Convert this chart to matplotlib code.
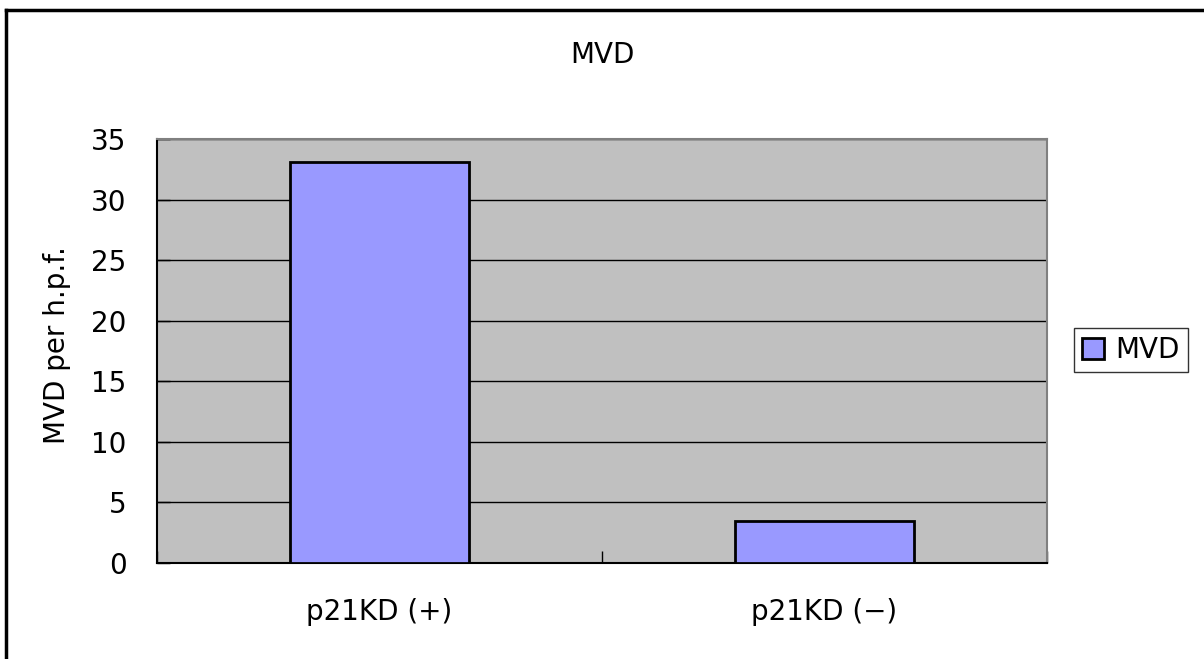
import matplotlib
matplotlib.use("Agg")
import matplotlib.pyplot as plt
from matplotlib.lines import Line2D
from matplotlib.patches import Patch

categories = ["p21KD (+)", "p21KD (\u2212)"]
values = [33.1, 3.5]
series_name = "MVD"
yticks = [0, 5, 10, 15, 20, 25, 30, 35]

plt.rcParams['font.family'] = ['DejaVu Sans']
FS = 20

W, H = 1204, 659
fig = plt.figure(figsize=(W / 100, H / 100), dpi=100)
fig.patch.set_facecolor("white")

ax = fig.add_axes([157 / W, 1 - 563 / H, (1047 - 157) / W, (563 - 139) / H])
ax.set_facecolor("#C0C0C0")

x = list(range(len(categories)))
ax.bar(x, values, width=0.403, color="#9999FF", edgecolor="black", linewidth=2, zorder=3)

ax.set_xlim(-0.5, len(categories) - 0.5)
ax.set_ylim(0, 35)
ax.set_yticks(yticks)
ax.yaxis.grid(True, color="black", linewidth=1, zorder=1)
ax.set_axisbelow(True)

ax.set_xticks([i - 0.5 for i in range(len(categories) + 1)])
ax.set_xticklabels([])
ax.set_xticks(x, minor=True)
ax.set_xticklabels(categories, minor=True, fontsize=FS)
ax.tick_params(axis="x", which="minor", length=0, pad=25)
ax.tick_params(axis="x", which="major", direction="in", length=9, width=1, colors="black")
ax.tick_params(axis="y", direction="in", length=9, width=1, labelsize=FS, pad=22)

for s in ["top", "right"]:
    ax.spines[s].set_color("#808080")
    ax.spines[s].set_linewidth(1.5)
for s in ["left", "bottom"]:
    ax.spines[s].set_color("black")
    ax.spines[s].set_linewidth(1.5)

fig.text(57 / W, 1 - 345 / H, "MVD per h.p.f.", fontsize=FS, rotation=90, ha="center", va="center")
fig.text(602 / W, 1 - 55 / H, "MVD", fontsize=FS, ha="center", va="center")

leg = fig.legend(handles=[Patch(facecolor="#9999FF", edgecolor="black", linewidth=2, label=series_name)],
                 loc="center", bbox_to_anchor=(1131 / W, 1 - 350 / H), fontsize=FS,
                 frameon=True, fancybox=False, handlelength=0.8, handleheight=0.8,
                 handletextpad=0.4, borderpad=0.3, borderaxespad=0)
leg.get_frame().set_edgecolor("black")
leg.get_frame().set_linewidth(1)

# outer chart border (top and left visible)
fig.add_artist(Line2D([6 / W, 1.0], [1 - 10 / H, 1 - 10 / H], transform=fig.transFigure, color="black", linewidth=2.5))
fig.add_artist(Line2D([6 / W, 6 / W], [0.0, 1 - 10 / H], transform=fig.transFigure, color="black", linewidth=2.5))

fig.savefig("out.png", dpi=100)
